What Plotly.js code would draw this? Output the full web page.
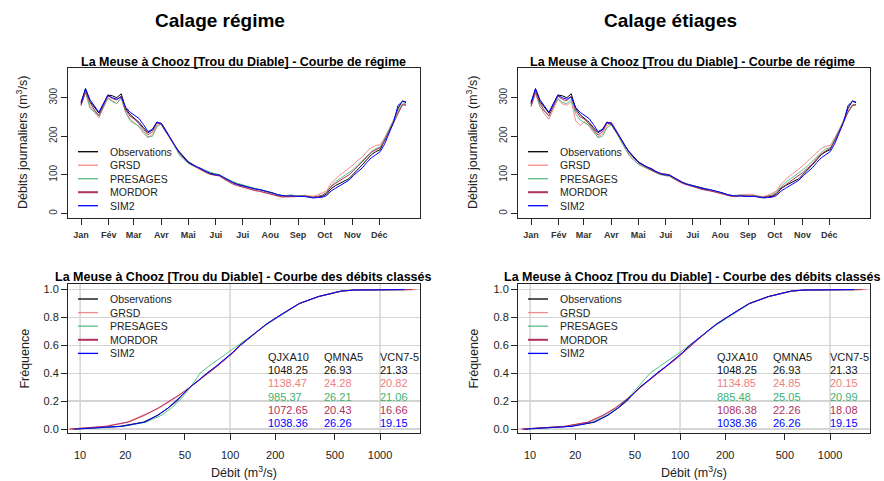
<!DOCTYPE html>
<html><head><meta charset="utf-8">
<script src="https://cdn.plot.ly/plotly-3.0.1.min.js"></script>
<style>html,body{margin:0;padding:0;background:#fff}</style>
</head><body>
<div id="chart" style="width:884px;height:481px"></div>
<script>
// ---------- DATA ----------
const seriesNames = ['Observations','GRSD','PRESAGES','MORDOR','SIM2'];
const lineColors = ['#000000','rgba(240,128,128,0.9)','rgba(60,179,113,0.85)','#B03060','#0000FF'];
const textColors = ['#111111','#F08080','#3CB371','#B03060','#0000FF'];

const monthTickDays = [1,32,60,91,121,152,182,213,244,274,305,335];
const monthLabels = ['Jan','Fév','Mar','Avr','Mai','Jui','Jui','Aou','Sep','Oct','Nov','Déc'];
const regimeTicks = [0,100,200,300];

const days = [1,6,11,16,21,26,31,36,41,46,
  51,56,61,66,71,76,81,86,91,96,
  101,106,111,116,121,126,131,136,141,146,
  151,156,161,166,171,176,181,186,191,196,
  201,206,211,216,221,226,231,236,241,246,
  251,256,261,266,271,276,281,286,291,296,
  301,306,311,316,321,326,331,336,341,346,
  351,356,361,365];

const obsRegime = [288,322,290,274,260,282,307,305,300,310,
  272,256,247,236,222,209,217,236,230,212,
  192,175,160,147,134,127,120,116,108,104,
  102,100,92,85,80,76,73,70,66,63,
  61,58,55,52,48,46,45,46,44,45,
  45,43,41,43,44,50,64,72,78,86,
  90,102,113,126,139,152,160,165,190,214,
  240,272,292,287];

const sim2Regime = [285,324,295,280,262,285,306,300,296,302,
  275,262,255,246,230,212,218,237,233,215,
  194,176,158,145,133,126,120,115,108,103,
  100,99,93,86,80,75,72,69,65,63,
  62,59,56,53,48,46,45,45,44,44,
  44,42,40,41,42,46,58,65,72,80,
  86,98,107,118,132,144,152,160,180,208,
  236,280,290,289];

// Calage régime
const grsdRegimeCR = [280,312,280,262,248,272,300,292,285,298,
  262,245,235,224,208,196,205,228,232,214,
  192,172,155,142,130,124,117,112,106,101,
  100,97,90,83,78,73,70,66,62,60,
  58,55,52,48,44,42,42,43,43,46,
  47,46,44,48,52,58,78,90,100,108,
  116,126,138,146,160,170,176,178,196,220,
  242,262,282,282];
const presagesRegimeCR = [282,315,272,264,252,275,298,290,285,300,
  262,240,232,226,212,198,200,225,232,216,
  194,172,152,140,130,124,120,115,110,106,
  102,100,94,88,82,78,75,71,67,64,
  62,59,56,53,49,46,46,48,46,46,
  46,44,42,44,46,54,70,82,90,98,
  104,114,126,136,148,160,168,172,192,216,
  240,266,284,284];
const mordorRegimeCR = [280,316,288,268,254,278,305,298,294,305,
  268,252,244,232,218,204,212,234,234,216,
  196,176,158,144,132,125,118,113,106,101,
  99,97,89,82,76,72,69,65,61,59,
  57,54,51,48,45,43,44,45,44,45,
  45,43,42,44,47,54,70,78,85,94,
  100,110,122,132,146,158,165,170,188,212,
  238,262,282,280];

// Calage étiages
const grsdRegimeCE = [276,310,278,258,244,270,296,284,280,290,
  240,228,238,226,210,198,206,228,234,214,
  190,170,152,140,128,122,116,112,106,103,
  102,98,90,82,77,74,71,67,63,61,
  59,56,53,49,45,44,46,48,49,50,
  48,45,43,47,52,58,76,88,98,106,
  115,125,136,146,158,168,174,176,195,218,
  242,262,280,280];
const presagesRegimeCE = [284,316,276,266,254,276,298,288,284,296,
  258,242,236,228,214,196,200,222,230,214,
  190,168,150,138,128,122,117,112,106,100,
  98,96,90,84,79,76,73,69,65,63,
  61,58,55,52,48,46,47,48,46,46,
  46,44,42,45,48,55,70,80,88,96,
  104,114,124,134,146,158,167,170,190,214,
  240,264,282,283];
const mordorRegimeCE = [278,316,286,266,252,276,304,296,292,304,
  266,250,244,232,217,203,212,234,236,218,
  197,177,158,144,132,125,118,112,106,102,
  100,98,90,83,78,74,71,67,63,61,
  59,56,53,50,46,44,45,46,45,45,
  45,43,42,44,46,52,66,74,82,90,
  97,107,118,128,142,154,162,168,186,210,
  236,262,280,282];

// Courbe des débits classés : fréquence / débit (m3/s)
const freqLevels = [0,0.01,0.02,0.05,0.1,0.15,0.2,0.25,0.3,0.35,0.4,0.45,0.5,0.55,0.6,0.65,0.7,0.75,0.8,0.85,0.9,0.95,0.98,0.99,0.997,1];
const freqTicks = [0,0.2,0.4,0.6,0.8,1];
const debitTicks = [10,20,50,100,200,500,1000];
const debitGrid = [10,100,1000];

const obsDebits = [8.9,13.5,18.5,26.5,33,38.5,44,48.5,54,62,70,81,93,105,117,133,152,174,205,242,290,390,500,560,690,1520];
const sim2Debits = [9.2,14,19,27,33,38.5,43.5,48.5,54,61,70,80.5,92,104,116,132,151,173,204,241,289,388,498,555,670,1450];
const grsdDebitsCR = [8.6,12,14.5,20.5,26.5,33.5,40,47,54,62,71,81.5,93,105,117,133,152,175,206,244,292,392,505,570,700,1750];
const presagesDebitsCR = [9.5,14,19.5,27.5,35,40.5,45.5,50,54.5,58.5,63,72,84,97,113,131,152,176,208,246,292,390,495,550,660,1600];
const mordorDebitsCR = [8.5,12.5,15,21,27,33,39.5,46.5,54,62.5,71.5,82,93.5,105.5,117.5,133,152,174,204,242,290,388,500,565,690,1650];
const grsdDebitsCE = [8.8,13,17,24,30.5,36.5,42.5,48.5,54.5,62,71,81.5,93,105,117,133,152,175,206,244,292,392,505,570,700,1750];
const presagesDebitsCE = [9.5,14,18.5,26,32.5,38,43,47.5,52,57,63,73,86,100,115,132,153,177,209,247,293,392,495,550,660,1580];
const mordorDebitsCE = [8.8,13,17,24.5,31,37,42.5,48.5,54.5,62,71,81.5,93.5,105.5,117.5,133,152,174,204,242,290,388,500,565,690,1650];

const statNames = ['QJXA10','QMNA5','VCN7-5'];
const statsCR = [[1048.25,26.93,21.33],[1138.47,24.28,20.82],[985.37,26.21,21.06],[1072.65,20.43,16.66],[1038.36,26.26,19.15]];
const statsCE = [[1048.25,26.93,21.33],[1134.85,24.85,20.15],[885.48,25.05,20.99],[1086.38,22.26,18.08],[1038.36,26.26,19.15]];

const mainTitles = ['Calage régime','Calage étiages'];
const regimeTitle = 'La Meuse à Chooz [Trou du Diable] - Courbe de régime';
const dureeTitle = 'La Meuse à Chooz [Trou du Diable] - Courbe des débits classés';

// ---------- LAYOUT HELPERS ----------
const W = 884, H = 481;
const FONT = '"Liberation Sans", Arial, sans-serif';
const X = p => p / W;
const Y = p => 1 - p / H;

const traces = [];
function addSet(xs, ys, xa, ya, xIsSet) {
  for (let i = 0; i < 5; i++) {
    traces.push({
      type: 'scatter', mode: 'lines',
      x: xIsSet ? xs[i] : xs, y: xIsSet ? ys : ys[i],
      xaxis: xa, yaxis: ya, name: seriesNames[i],
      line: {color: lineColors[i], width: 1},
      showlegend: false, hoverinfo: 'skip'
    });
  }
}
addSet(days, [obsRegime, grsdRegimeCR, presagesRegimeCR, mordorRegimeCR, sim2Regime], 'x', 'y', false);
addSet(days, [obsRegime, grsdRegimeCE, presagesRegimeCE, mordorRegimeCE, sim2Regime], 'x2', 'y2', false);
addSet([obsDebits, grsdDebitsCR, presagesDebitsCR, mordorDebitsCR, sim2Debits], freqLevels, 'x3', 'y3', true);
addSet([obsDebits, grsdDebitsCE, presagesDebitsCE, mordorDebitsCE, sim2Debits], freqLevels, 'x4', 'y4', true);

const axBase = {
  showline: true, mirror: true, linecolor: '#262626', linewidth: 1,
  ticks: 'outside', ticklen: 6, tickcolor: '#262626', tickwidth: 1,
  zeroline: false, showgrid: false, fixedrange: true
};
const boxes = {
  TL: [68, 420, 68, 218], TR: [518, 870, 68, 218],
  BL: [68, 420, 284, 433.3], BR: [518, 870, 284, 433.3]
};
function dom(b) { return {x: [X(b[0]), X(b[1])], y: [Y(b[3]), Y(b[2])]}; }

function regimeAxes(b) {
  const d = dom(b);
  return [
    Object.assign({}, axBase, {domain: d.x, range: [-13.6, 380.6],
      tickmode: 'array', tickvals: monthTickDays, ticktext: monthLabels, ticklabelstandoff: 2,
      tickfont: {family: FONT, size: 9, color: '#333', weight: 'bold'}}),
    Object.assign({}, axBase, {domain: d.y, range: [-12, 377],
      tickmode: 'array', tickvals: regimeTicks, tickangle: -90,
      tickfont: {family: FONT, size: 10, color: '#333'}})
  ];
}
function dureeAxes(b) {
  const d = dom(b);
  return [
    Object.assign({}, axBase, {domain: d.x, type: 'log', range: [Math.log10(8.3), Math.log10(1848)],
      tickmode: 'array', tickvals: debitTicks, ticktext: debitTicks.map(String), ticklabelstandoff: 5,
      tickfont: {family: FONT, size: 11, color: '#222'}}),
    Object.assign({}, axBase, {domain: d.y, range: [-0.03, 1.04],
      tickmode: 'array', tickvals: freqTicks, ticktext: freqTicks.map(v => v.toFixed(1)),
      showgrid: true, gridcolor: '#d4d4d4', gridwidth: 1.5,
      tickfont: {family: FONT, size: 11, color: '#222'}})
  ];
}
const [xa1, ya1] = regimeAxes(boxes.TL); xa1.anchor = 'y'; ya1.anchor = 'x';
const [xa2, ya2] = regimeAxes(boxes.TR); xa2.anchor = 'y2'; ya2.anchor = 'x2';
const [xa3, ya3] = dureeAxes(boxes.BL); xa3.anchor = 'y3'; ya3.anchor = 'x3';
const [xa4, ya4] = dureeAxes(boxes.BR); xa4.anchor = 'y4'; ya4.anchor = 'x4';

const annotations = [];
const shapes = [];
function txt(x, y, text, opts) {
  annotations.push(Object.assign({xref: 'paper', yref: 'paper', x: X(x), y: Y(y), text: text,
    showarrow: false, xanchor: 'center', yanchor: 'middle',
    font: {family: FONT, size: 11, color: '#111'}}, opts || {}));
}

// main titles
txt(220, 20, mainTitles[0], {font: {family: FONT, size: 19, color: '#000', weight: 'bold'}});
txt(670, 20, mainTitles[1], {font: {family: FONT, size: 19, color: '#000', weight: 'bold'}});
// panel titles
const ptFont = {family: FONT, size: 12.5, color: '#000', weight: 'bold'};
txt(243, 61.5, regimeTitle, {font: ptFont});
txt(692, 61.5, regimeTitle, {font: ptFont});
txt(243.5, 276.5, dureeTitle, {font: ptFont});
txt(692, 276.5, dureeTitle, {font: ptFont});
// axis titles
const atFont = {family: FONT, size: 12.5, color: '#222'};
txt(22, 143, 'Débits journaliers (m<sup>3</sup>/s)', {textangle: -90, font: atFont});
txt(472, 143, 'Débits journaliers (m<sup>3</sup>/s)', {textangle: -90, font: atFont});
txt(25, 358.6, 'Fréquence', {textangle: -90, font: atFont});
txt(474, 358.6, 'Fréquence', {textangle: -90, font: atFont});
txt(244, 472, 'Débit (m<sup>3</sup>/s)', {font: atFont});
txt(694, 472, 'Débit (m<sup>3</sup>/s)', {font: atFont});

// legends
const legendGeom = [
  {lx0: 78, lx1: 98, tx: 108, y0: 151.7, dy: 13.5},
  {lx0: 528, lx1: 548, tx: 558, y0: 151.7, dy: 13.5},
  {lx0: 78, lx1: 98, tx: 108, y0: 299, dy: 13.6},
  {lx0: 528, lx1: 548, tx: 558, y0: 299, dy: 13.6}
];
legendGeom.forEach(g => {
  seriesNames.forEach((n, i) => {
    const yy = g.y0 + i * g.dy;
    shapes.push({type: 'line', xref: 'paper', yref: 'paper', x0: X(g.lx0), x1: X(g.lx1), y0: Y(yy), y1: Y(yy),
      line: {color: lineColors[i], width: i === 3 ? 2 : 1.3}});
    txt(g.tx, yy, n, {xanchor: 'left', font: {family: FONT, size: 10.5, color: '#222'}});
  });
});

// stats tables
function statTable(cols, stats) {
  const y0 = 356.7, dy = 13.3;
  statNames.forEach((s, j) => txt(cols[j], y0, s, {xanchor: 'left', font: {family: FONT, size: 11, color: '#222'}}));
  stats.forEach((row, i) => row.forEach((v, j) =>
    txt(cols[j], y0 + (i + 1) * dy, v.toFixed(2), {xanchor: 'left', font: {family: FONT, size: 11, color: textColors[i]}})));
}
statTable([266, 321.7, 378], statsCR);
statTable([715.3, 771.3, 828], statsCE);

// vertical grid lines on the flow-duration panels
[['x3', 'y3'], ['x4', 'y4']].forEach(([xa, ya]) => {
  debitGrid.forEach(g => shapes.push({type: 'line', xref: xa, yref: ya + ' domain', x0: g, x1: g, y0: 0, y1: 1,
    layer: 'below', line: {color: '#d4d4d4', width: 1.5}}));
});

const layout = {
  width: W, height: H, margin: {l: 0, r: 0, t: 0, b: 0},
  paper_bgcolor: '#fff', plot_bgcolor: 'rgba(0,0,0,0)',
  font: {family: FONT},
  showlegend: false,
  xaxis: xa1, yaxis: ya1, xaxis2: xa2, yaxis2: ya2,
  xaxis3: xa3, yaxis3: ya3, xaxis4: xa4, yaxis4: ya4,
  annotations: annotations, shapes: shapes
};
Plotly.newPlot('chart', traces, layout, {displayModeBar: false, staticPlot: true});
</script>
</body></html>
